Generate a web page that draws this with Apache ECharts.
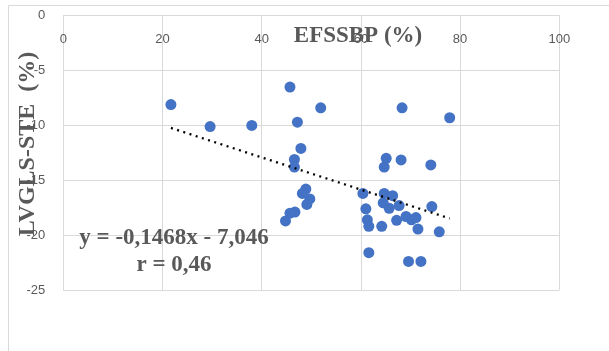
<!DOCTYPE html>
<html>
<head>
<meta charset="utf-8">
<script src="https://cdn.jsdelivr.net/npm/echarts@6/dist/echarts.min.js"></script>
<style>
  html, body { margin: 0; padding: 0; background: #fff; }
  #chart { width: 609px; height: 351px; }
</style>
</head>
<body>
<div id="chart"></div>
<script>
// EFSSBP (%) vs LVGLS-STE (%)
const xValues = [
  21.7, 29.6, 38.0, 45.7, 51.9, 47.2, 47.9, 46.6, 46.6, 48.9,
  48.2, 49.7, 49.1, 46.7, 45.7, 44.8, 60.4, 61.0, 61.3, 61.6,
  64.2, 61.6, 64.7, 66.4, 64.5, 65.7, 67.7, 74.3, 67.2, 69.1,
  70.2, 71.1, 71.5, 75.8, 69.6, 72.1, 68.3, 77.9, 65.1, 64.7,
  68.1, 74.1
]
const yValues = [
  -8.1, -10.1, -10.0, -6.5, -8.4, -9.7, -12.1, -13.1, -13.8, -15.8,
  -16.2, -16.7, -17.2, -17.9, -18.0, -18.7, -16.2, -17.6, -18.6, -19.2,
  -19.2, -21.6, -16.2, -16.4, -17.05, -17.55, -17.3, -17.4, -18.65, -18.3,
  -18.6, -18.4, -19.45, -19.7, -22.4, -22.4, -8.4, -9.3, -13.0, -13.8,
  -13.15, -13.6
]
// dotted trend line end points
const trendX = [21.7, 77.9]
const trendY = [-10.23, -18.48]

const xTicks = { min: 0, max: 100, interval: 20 }
const yTicks = { min: -25, max: 0, interval: 5 }

const equationText = 'y = -0,1468x - 7,046'
const rText = 'r = 0,46'

const gray = '#595959'
const gridGray = '#d9d9d9'

const chart = echarts.init(document.getElementById('chart'))

chart.setOption({
  animation: false,
  grid: { left: 63.3, top: 15.7, width: 496, height: 274.3 },
  xAxis: {
    type: 'value',
    position: 'top',
    min: xTicks.min,
    max: xTicks.max,
    interval: xTicks.interval,
    axisLine: { show: true, onZero: false, lineStyle: { color: gridGray } },
    axisTick: { show: false },
    axisLabel: {
      inside: true,
      margin: 17,
      color: gray,
      fontSize: 13,
      fontFamily: 'Liberation Sans'
    },
    splitLine: { show: true, lineStyle: { color: gridGray, width: 1 } }
  },
  yAxis: {
    type: 'value',
    min: yTicks.min,
    max: yTicks.max,
    interval: yTicks.interval,
    axisLine: { show: true, onZero: false, lineStyle: { color: gridGray } },
    axisTick: { show: false },
    axisLabel: {
      margin: 18,
      color: gray,
      fontSize: 13,
      fontFamily: 'Liberation Sans'
    },
    splitLine: { show: true, lineStyle: { color: gridGray, width: 1 } }
  },
  series: [
    {
      type: 'scatter',
      data: xValues.map((x, i) => [x, yValues[i]]),
      symbolSize: 11,
      itemStyle: { color: '#4472C4', opacity: 1 },
      z: 3
    },
    {
      type: 'line',
      data: trendX.map((x, i) => [x, trendY[i]]),
      symbol: 'none',
      lineStyle: { color: '#000', width: 2.3, type: [2, 4.5] },
      z: 4
    }
  ],
  graphic: [
    {
      type: 'rect',
      shape: { x: 8.5, y: 5.5, width: 700, height: 400 },
      style: { fill: 'none', stroke: gridGray, lineWidth: 1 },
      silent: true,
      z: -10
    },
    {
      type: 'text',
      x: 358,
      y: 36,
      style: {
        text: 'EFSSBP (%)',
        font: 'bold 23px "Liberation Serif"',
        fill: gray,
        align: 'center',
        verticalAlign: 'middle'
      },
      z: 10
    },
    {
      type: 'text',
      x: 28,
      y: 144,
      rotation: Math.PI / 2,
      style: {
        text: 'LVGLS-STE  (%)',
        font: 'bold 24px "Liberation Serif"',
        fill: gray,
        align: 'center',
        verticalAlign: 'middle'
      },
      z: 10
    },
    {
      type: 'text',
      x: 174,
      y: 238,
      style: {
        text: equationText,
        font: 'bold 23px "Liberation Serif"',
        fill: gray,
        align: 'center',
        verticalAlign: 'middle'
      },
      z: 10
    },
    {
      type: 'text',
      x: 174,
      y: 265,
      style: {
        text: rText,
        font: 'bold 23px "Liberation Serif"',
        fill: gray,
        align: 'center',
        verticalAlign: 'middle'
      },
      z: 10
    }
  ]
})
</script>
</body>
</html>
